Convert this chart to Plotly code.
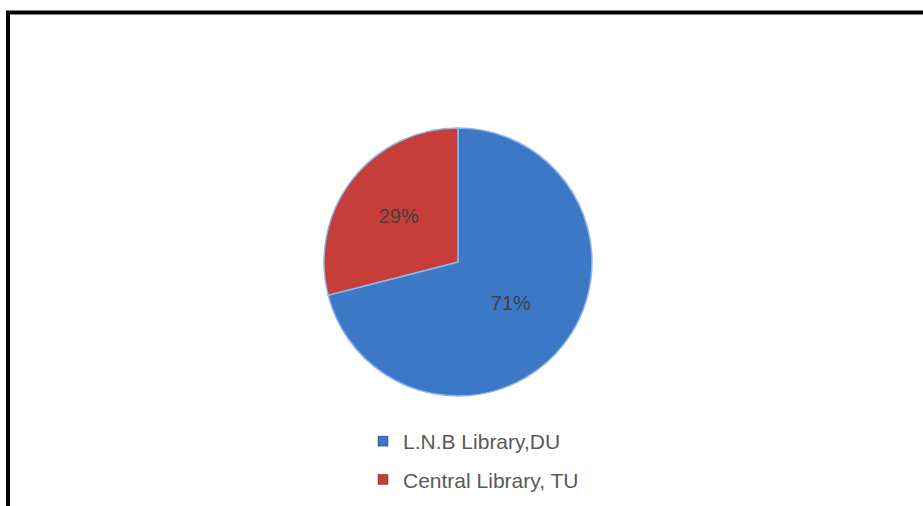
import plotly.graph_objects as go

labels = ["L.N.B Library,DU", "Central Library, TU"]
values = [71, 29]
colors = ["#3C78C6", "#C63D3A"]

W, H = 923, 506

fig = go.Figure()
fig.add_trace(go.Pie(
    labels=labels,
    values=values,
    sort=False,
    direction="clockwise",
    rotation=0,
    marker=dict(colors=colors, line=dict(color="#8DB8EC", width=1.5)),
    texttemplate="%{percent:.0%}",
    textposition="inside",
    insidetextorientation="horizontal",
    textfont=dict(family="Liberation Sans, Arial, sans-serif", size=20, color="#404040"),
    domain=dict(x=[324/W, 592/W], y=[1-396/H, 1-128/H]),
    showlegend=False,
    hoverinfo="label+percent",
))

# legend entries (one per slice), spaced like the reference
for i, (lab, col) in enumerate(zip(labels, colors)):
    fig.add_trace(go.Scatter(
        x=[None], y=[None], mode="markers", name=lab,
        legendgroup=f"g{i}",
        marker=dict(symbol="square", size=10, color=col,
                    line=dict(color="rgba(0,0,0,0.35)", width=1)),
        hoverinfo="skip",
    ))

fig.update_layout(
    width=W, height=H,
    margin=dict(l=0, r=0, t=0, b=0),
    paper_bgcolor="white",
    plot_bgcolor="white",
    xaxis=dict(visible=False),
    yaxis=dict(visible=False),
    showlegend=True,
    legend=dict(
        x=363/W, y=1-421/H, xanchor="left", yanchor="top",
        orientation="v",
        font=dict(family="Liberation Sans, Arial, sans-serif", size=21, color="#595959"),
        itemwidth=30,
        tracegroupgap=8,
        bgcolor="rgba(0,0,0,0)",
    ),
    shapes=[
        dict(type="line", xref="paper", yref="paper",
             x0=8/W, x1=8/W, y0=0, y1=1-11/H,
             line=dict(color="black", width=4)),
        dict(type="line", xref="paper", yref="paper",
             x0=6/W, x1=1, y0=1-12.5/H, y1=1-12.5/H,
             line=dict(color="black", width=4)),
    ],
)

fig.write_html("out.html", config={"displayModeBar": False},
               post_script="document.body.style.margin='0';document.body.style.padding='0';")
